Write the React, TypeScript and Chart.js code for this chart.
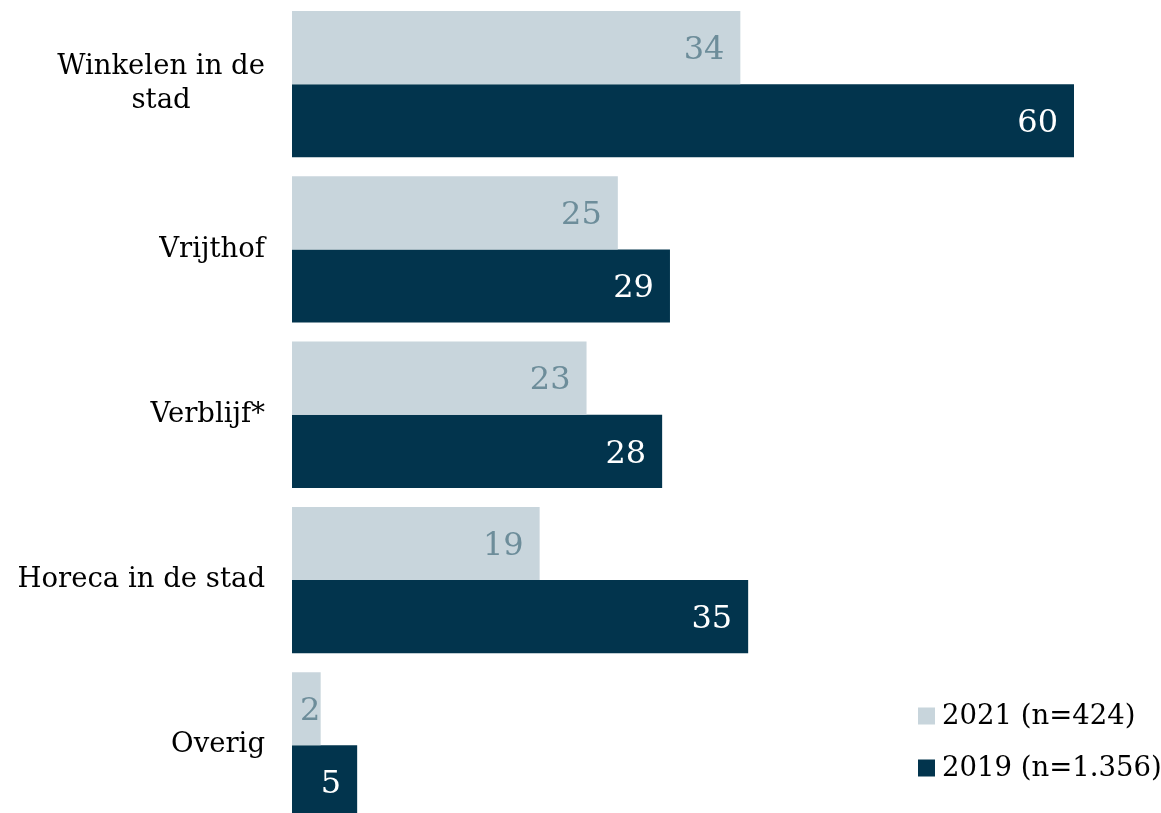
import React, { useEffect, useRef } from "react";
import { Chart, registerables } from "chart.js";

Chart.register(...registerables);

const categories: string[][] = [["Winkelen in de", "stad"], ["Vrijthof"], ["Verblijf*"], ["Horeca in de stad"], ["Overig"]];
const series2021: number[] = [34.4, 25, 22.6, 19, 2.2];
const series2019: number[] = [60, 29, 28.4, 35, 5];
const seriesNames: string[] = ["2021 (n=424)", "2019 (n=1.356)"];
const colors: string[] = ["#c8d5dc", "#02344d"];
const labelColors: string[] = ["#6d8d9a", "#ffffff"];

const FONT = "'DejaVu Serif', 'Liberation Serif', serif";

const drawPlugin = {
  id: "customDraw",
  afterDatasetsDraw(chart: any) {
    const ctx = chart.ctx as CanvasRenderingContext2D;
    const yScale = chart.scales.y;
    ctx.save();
    // category labels
    ctx.fillStyle = "#000000";
    ctx.font = `27.5px ${FONT}`;
    ctx.textBaseline = "middle";
    const rightEdge = 265;
    const lineH = 34;
    categories.forEach((lines, i) => {
      const cy = yScale.getPixelForValue(i);
      const widths = lines.map((l) => ctx.measureText(l).width);
      const maxW = Math.max(...widths);
      const center = rightEdge - maxW / 2;
      lines.forEach((l, j) => {
        const y = cy + (j - (lines.length - 1) / 2) * lineH;
        ctx.textAlign = "center";
        ctx.fillText(l, center, y);
      });
    });
    // value labels
    ctx.font = `32px ${FONT}`;
    chart.data.datasets.forEach((ds: any, di: number) => {
      const meta = chart.getDatasetMeta(di);
      meta.data.forEach((bar: any, i: number) => {
        const txt = String(Math.round(ds.data[i]));
        const w = ctx.measureText(txt).width;
        let x = bar.x - 16;
        const left = bar.base;
        if (x - w < left + 8) x = left + 8 + w;
        ctx.fillStyle = labelColors[di];
        ctx.textAlign = "right";
        ctx.fillText(txt, x, bar.y + 3);
      });
    });
    // legend
    ctx.font = `27.5px ${FONT}`;
    ctx.textAlign = "left";
    const legendX = 918;
    const legendY = [716, 768];
    seriesNames.forEach((name, i) => {
      ctx.fillStyle = colors[i];
      ctx.fillRect(legendX, legendY[i] - 8.5, 17, 17);
      ctx.fillStyle = "#000000";
      ctx.fillText(name, legendX + 24, legendY[i] + 1);
    });
    ctx.restore();
  },
};

export default function App() {
  const ref = useRef<HTMLCanvasElement | null>(null);
  useEffect(() => {
    if (!ref.current) return;
    Chart.defaults.font.family = FONT;
    const chart = new Chart(ref.current, {
      type: "bar",
      data: {
        labels: categories.map((c) => c.join(" ")),
        datasets: [
          { label: seriesNames[0], data: series2021, backgroundColor: colors[0], barPercentage: 1, categoryPercentage: 0.885 },
          { label: seriesNames[1], data: series2019, backgroundColor: colors[1], barPercentage: 1, categoryPercentage: 0.885 },
        ],
      },
      options: {
        indexAxis: "y",
        animation: false,
        responsive: false,
        maintainAspectRatio: false,
        layout: { padding: { left: 292, right: 87, top: 1.5, bottom: 0 } },
        plugins: { legend: { display: false }, tooltip: { enabled: false } },
        scales: {
          x: { display: false, min: 0, max: 60 },
          y: { display: false },
        },
      },
      plugins: [drawPlugin],
    });
    return () => chart.destroy();
  }, []);
  return (
    <div style={{ position: "fixed", left: 0, top: 0, width: 1161, height: 813, overflow: "hidden", background: "#fff" }}>
      <canvas ref={ref} width={1161} height={828} style={{ display: "block" }} />
    </div>
  );
}
